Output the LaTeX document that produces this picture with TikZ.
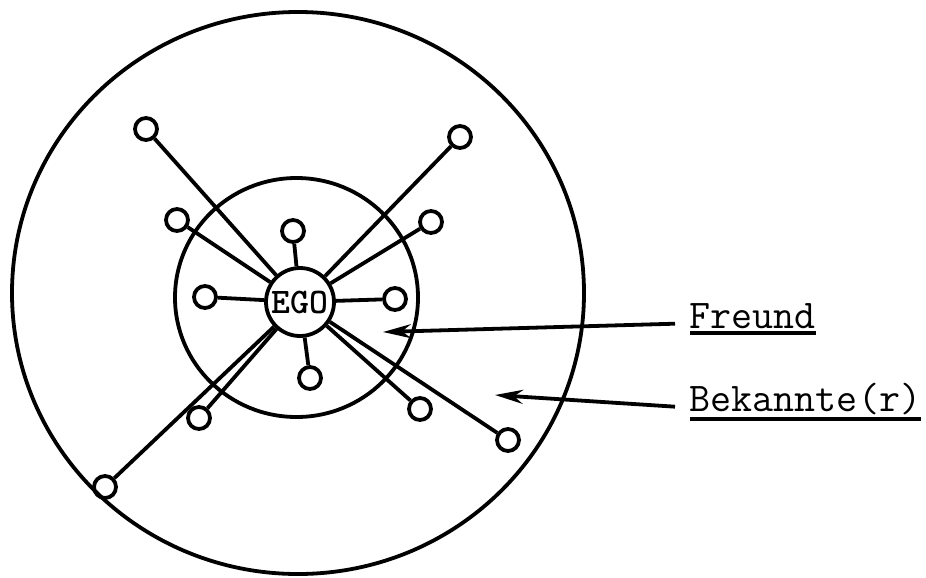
\documentclass[tikz,border=0pt]{standalone}
\usepackage{tikz}
\usetikzlibrary{arrows.meta}

% underlined typewriter label
\newcommand{\undertext}[1]{\vtop{\hbox{#1}\kern1.5pt\hrule height 1.8pt}}

\begin{document}
\begin{tikzpicture}[
x=0.5pt,
y=-0.5pt,
line width=1.9pt,
>={Stealth[length=14pt,width=7pt]},
friend/.style={
circle,
draw,
minimum size=11pt,
inner sep=0pt
},
egobox/.style={
circle,
draw,
minimum size=34pt,
inner sep=0pt,
font=\fontsize{18}{18}\selectfont\ttfamily\bfseries
},
roletext/.style={
anchor=base west,
inner xsep=6.5pt,
inner ysep=0pt,
font=\fontsize{20.4}{24}\selectfont\ttfamily
}
]

\useasboundingbox (0,0) rectangle (926,578);

% circles of acquaintance and friendship
\draw (298,293) ellipse [x radius=143pt, y radius=140.5pt];
\draw (296.5,297.5) ellipse [x radius=60.75pt, y radius=59.75pt];

\node[egobox] (ego) at (300,302) {EGO};

% Bekannte
\node[friend] (a1) at (146,129) {};
\node[friend] (a2) at (460,137) {};
\node[friend] (a3) at (508,440) {};
\node[friend] (a4) at (105,487) {};

% Freunde
\node[friend] (f1) at (177,220) {};
\node[friend] (f2) at (293,231) {};
\node[friend] (f3) at (431,222) {};
\node[friend] (f4) at (205,297) {};
\node[friend] (f5) at (395,299) {};
\node[friend] (f6) at (310,378) {};
\node[friend] (f7) at (199,418) {};
\node[friend] (f8) at (420,409) {};

\path
(ego) edge (a1)
(ego) edge (a2)
(ego) edge (a3)
(ego) edge (a4)
(ego) edge (f1)
(ego) edge (f2)
(ego) edge (f3)
(ego) edge (f4)
(ego) edge (f5)
(ego) edge (f6)
(ego) edge (f7)
(ego) edge (f8);

\node[roletext] (freund) at (675,328) {\undertext{Freund}};
\node[roletext] (bekannte) at (675,411) {\undertext{Bekannte(r)}};

\coordinate (fz) at (383,332);
\coordinate (bz) at (495,395);

\draw[->] (freund.mid west) -- (fz);
\draw[->] (bekannte.mid west) -- (bz);

\end{tikzpicture}
\end{document}
